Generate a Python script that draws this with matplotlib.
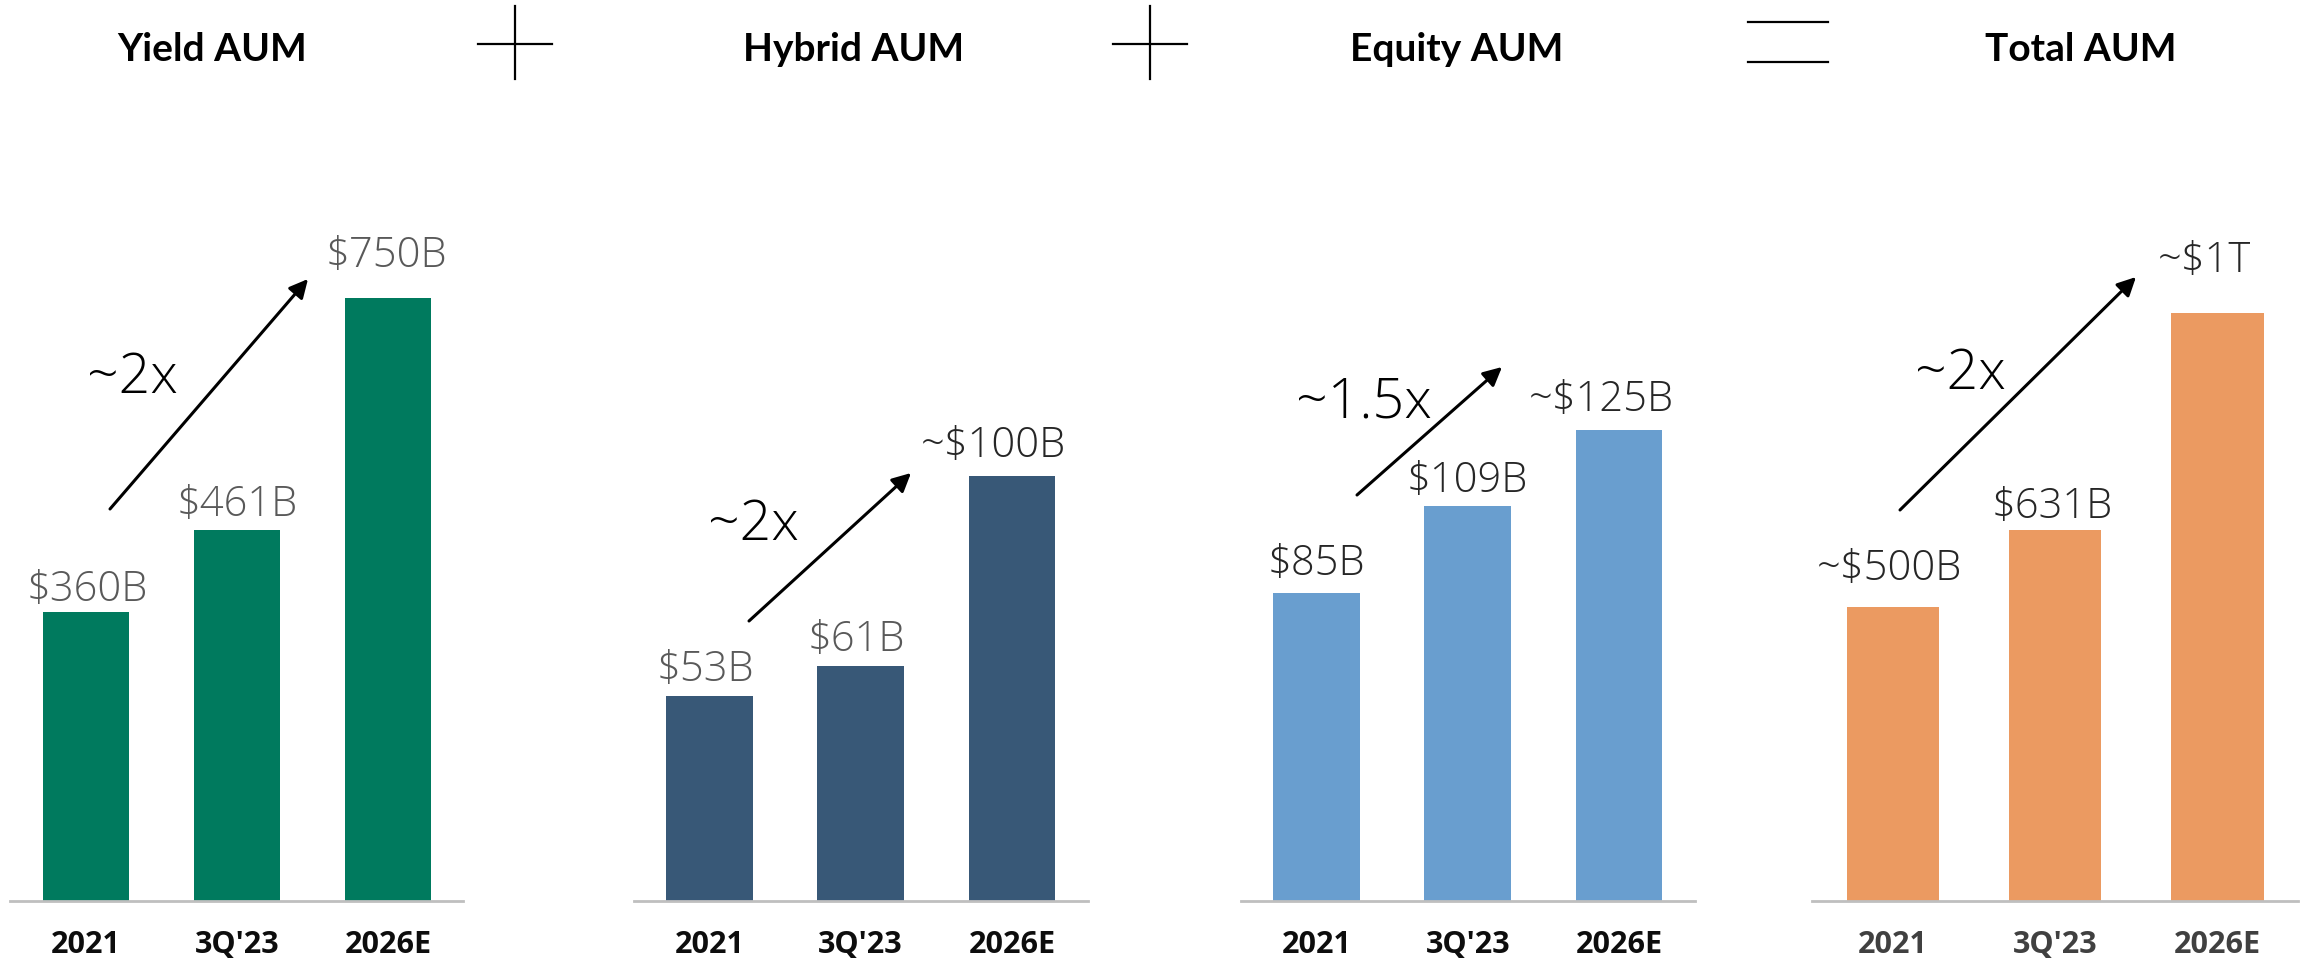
import matplotlib
matplotlib.use("Agg")
import matplotlib.pyplot as plt
from matplotlib.lines import Line2D

# ---------------- data ----------------
categories = ["2021", "3Q'23", "2026E"]
panel_titles = ["Yield AUM", "Hybrid AUM", "Equity AUM", "Total AUM"]

yield_aum = [360, 461, 750]
hybrid_aum = [53, 61, 110]
equity_aum = [85, 109, 130]
total_aum = [500, 631, 1000]

yield_labels = ["$360B", "$461B", "$750B"]
hybrid_labels = ["$53B", "$61B", "~$100B"]
equity_labels = ["$85B", "$109B", "~$125B"]
total_labels = ["~$500B", "$631B", "~$1T"]

growth_labels = ["~2x", "~2x", "~1.5x", "~2x"]

# ---------------- style / layout ----------------
W, H = 2300, 970
plt.rcParams['font.family'] = ['Lato', 'DejaVu Sans']
VALUE_FONT = ["Open Sans", "DejaVu Sans"]

series = [yield_aum, hybrid_aum, equity_aum, total_aum]
labels = [yield_labels, hybrid_labels, equity_labels, total_labels]
colors = ["#007A5E", "#385877", "#699ECF", "#EB9A61"]
value_colors = [["#595959"] * 3,
                ["#595959", "#595959", "#262626"],
                ["#262626"] * 3,
                ["#262626"] * 3]
tick_colors = ["#0d0d0d", "#0d0d0d", "#0d0d0d", "#404040"]

# axes placement in pixels (left, width), baseline & top
ax_px = [(10.4, 453), (633.6, 454), (1240.8, 454), (1812, 486.3)]
bar_w = [0.573, 0.573, 0.573, 0.571]
base_y = 902
top_y = 200
ymax = [873, 181.9, 193.7, 1194]

# value label offsets in px (dx, gap above bar)
val_dx = [[1, 0, -1], [-4, -4, -19], [0, 0, -18], [-4, -3, -13]]
val_gap = [[12, 15, 32], [16, 16, 20], [19, 15, 20], [28, 13, 42]]

# title centres (px)
title_x = [212, 854, 1457, 2081]
title_base = 61

# growth arrows (px from top-left): start, end
arrows = [((110, 510), (308, 280)),
          ((749, 622), (911, 474)),
          ((1357, 496), (1502, 368)),
          ((1900, 511), (2136, 278))]
growth_pos = [(132, 393), (753, 540), (1364, 418), (1960, 389)]

fig = plt.figure(figsize=(W / 100, H / 100), dpi=100)
fig.patch.set_facecolor("white")

px2pt = 0.72

for k in range(4):
    left, width = ax_px[k]
    ax = fig.add_axes([left / W, (H - base_y) / H, width / W, (base_y - top_y) / H])
    x = list(range(len(categories)))
    ax.bar(x, series[k], width=bar_w[k], color=colors[k], zorder=2)
    ax.set_xlim(-0.5, 2.5)
    ax.set_ylim(0, ymax[k])
    for s in ["top", "left", "right"]:
        ax.spines[s].set_visible(False)
    ax.spines["bottom"].set_color("#BFBFBF")
    ax.spines["bottom"].set_linewidth(2.0)
    ax.spines["bottom"].set_zorder(3)
    ax.set_yticks([])
    ax.set_xticks(x)
    ax.set_xticklabels(categories, fontsize=22, fontweight="bold",
                       color=tick_colors[k], family=["Open Sans", "DejaVu Sans"])
    ax.tick_params(axis="x", length=0, pad=20)
    ax.patch.set_alpha(0)
    for i, (v, lab) in enumerate(zip(series[k], labels[k])):
        ax.annotate(lab, xy=(i, v), xytext=(val_dx[k][i] * px2pt, val_gap[k][i] * px2pt),
                    textcoords="offset points", ha="center", va="baseline",
                    fontsize=30, fontweight="light", family=VALUE_FONT,
                    color=value_colors[k][i])

    # title
    fig.text(title_x[k] / W, 1 - title_base / H, panel_titles[k], ha="center",
             va="baseline", fontsize=28, fontweight="bold", color="black")

    # growth arrow
    (x0, y0), (x1, y1) = arrows[k]
    fig.add_artist(matplotlib.patches.FancyArrowPatch(
        (x0 / W, 1 - y0 / H), (x1 / W, 1 - y1 / H), transform=fig.transFigure,
        arrowstyle="-|>", mutation_scale=28, lw=2.2, color="black",
        shrinkA=0, shrinkB=0))
    gx, gy = growth_pos[k]
    fig.text(gx / W, 1 - gy / H, growth_labels[k], ha="center", va="baseline",
             fontsize=40, fontweight="light", family=VALUE_FONT, color="black")

# operators between panels
def fline(xs, ys, lw=1.6):
    fig.add_artist(Line2D([v / W for v in xs], [1 - v / H for v in ys],
                          transform=fig.transFigure, color="black", lw=lw))

for cx in (515, 1150):
    fline([cx, cx], [7, 80])
    fline([cx - 37, cx + 37], [45, 45])
fline([1748, 1828], [23, 23])
fline([1748, 1828], [63, 63])

fig.savefig("out.png", dpi=100, facecolor="white")
